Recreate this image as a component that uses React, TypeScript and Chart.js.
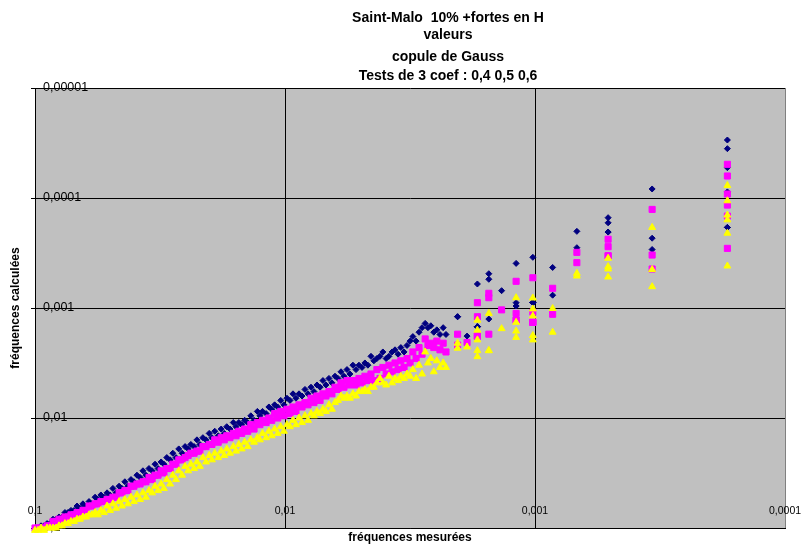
import React, { useEffect, useRef } from 'react';
import { Chart, registerables } from 'chart.js';

Chart.register(...registerables);

// Titles and axis labels
const titreLignes = [
  'Saint-Malo  10% +fortes en H',
  'valeurs',
  'copule de Gauss',
  'Tests de 3 coef : 0,4 0,5 0,6',
];
const titreAxeX = 'fréquences mesurées';
const titreAxeY = 'fréquences calculées';

// Decade ticks of both log axes and their labels (French decimal comma)
const decadesX = [0.1, 0.01, 0.001, 0.0001];
const etiquettesX = ['0,1', '0,01', '0,001', '0,0001'];
const decadesY = [0.1, 0.01, 0.001, 0.0001, 0.00001];
const etiquettesY = ['0,1', '0,01', '0,001', '0,0001', '0,00001'];

// Measured frequency of each event (ties share the same value)
const frequencesMesurees = [
  0.1, 0.0973, 0.0946, 0.092, 0.0895, 0.0871, 0.0847, 0.0824, 0.0802, 0.078,
  0.0759, 0.0738, 0.0718, 0.0698, 0.0679, 0.0661, 0.0643, 0.0625, 0.0608, 0.0592,
  0.0575, 0.056, 0.0545, 0.053, 0.0515, 0.0501, 0.0488, 0.0474, 0.0461, 0.0449,
  0.0437, 0.0425, 0.0413, 0.0402, 0.0391, 0.038, 0.037, 0.036, 0.035, 0.034,
  0.0331, 0.0322, 0.0313, 0.0305, 0.0297, 0.0288, 0.0281, 0.0273, 0.0266, 0.0258,
  0.0251, 0.0244, 0.0238, 0.0231, 0.0225, 0.0219, 0.0213, 0.0207, 0.0201, 0.0196,
  0.0191, 0.0185, 0.018, 0.0175, 0.0171, 0.0166, 0.0161, 0.0157, 0.0153, 0.0149,
  0.0145, 0.0141, 0.0137, 0.0133, 0.0129, 0.0126, 0.0123, 0.0119, 0.0116, 0.0113,
  0.011, 0.0107, 0.0104, 0.0101, 0.00982, 0.00955, 0.00929, 0.00904, 0.00879, 0.00855,
  0.00832, 0.00809, 0.00787, 0.00766, 0.00745, 0.00724, 0.00705, 0.00686, 0.00667, 0.00649,
  0.00631, 0.00614, 0.00597, 0.00581, 0.00565, 0.0055, 0.00535, 0.0052, 0.00506, 0.00492,
  0.00479, 0.00466, 0.00453, 0.00441, 0.00429, 0.00417, 0.00406, 0.00394, 0.00384, 0.00373,
  0.00363, 0.00353, 0.00344, 0.00334, 0.00325, 0.00316, 0.00308, 0.00299, 0.00291, 0.00283,
  0.00275, 0.00268, 0.00261, 0.00254, 0.00247, 0.0024, 0.00233, 0.00227,
  0.00204, 0.00204,
  0.00187,
  0.0017, 0.0017, 0.0017, 0.0017, 0.0017,
  0.00153, 0.00153, 0.00153,
  0.00136,
  0.00119, 0.00119, 0.00119, 0.00119,
  0.00102, 0.00102, 0.00102, 0.00102, 0.00102,
  0.00085, 0.00085,
  0.00068, 0.00068,
  0.00051, 0.00051, 0.00051, 0.00051,
  0.00034, 0.00034, 0.00034,
  0.00017, 0.00017, 0.00017, 0.00017, 0.00017, 0.00017,
];

// Calculated frequency, copula coefficient 0,4
const coef04 = [
  0.1, 0.1, 0.0955, 0.0955, 0.0912, 0.0912, 0.0832, 0.0832, 0.0794, 0.0794,
  0.0724, 0.0724, 0.0692, 0.0692, 0.0631, 0.0661, 0.0603, 0.0631, 0.0575, 0.0603,
  0.0525, 0.055, 0.0501, 0.0525, 0.0479, 0.0501, 0.0437, 0.0479, 0.0417, 0.0437,
  0.038, 0.0417, 0.0363, 0.038, 0.0331, 0.0347, 0.0302, 0.0331, 0.0288, 0.0302,
  0.0263, 0.0288, 0.0251, 0.0263, 0.0229, 0.024, 0.0209, 0.0229, 0.0191, 0.0209,
  0.0182, 0.0191, 0.0174, 0.0182, 0.0158, 0.0174, 0.0151, 0.0158, 0.0138, 0.0151,
  0.0132, 0.0145, 0.0126, 0.0138, 0.012, 0.0126, 0.011, 0.012, 0.011, 0.0115,
  0.0105, 0.011, 0.00955, 0.0105, 0.00871, 0.00955, 0.00871, 0.00912, 0.00794, 0.00832,
  0.00759, 0.00794, 0.00692, 0.00759, 0.00661, 0.00692, 0.00603, 0.00661, 0.00603, 0.00631,
  0.0055, 0.00603, 0.00525, 0.00575, 0.00501, 0.00525, 0.00457, 0.00501, 0.00437, 0.00479,
  0.00417, 0.00437, 0.0038, 0.00417, 0.00363, 0.00398, 0.00331, 0.00363, 0.00331, 0.00347,
  0.00316, 0.00331, 0.00275, 0.00302, 0.00288, 0.00275, 0.00251, 0.00288, 0.00275, 0.00251,
  0.0024, 0.00263, 0.00229, 0.00251, 0.00219, 0.002, 0.00182, 0.002, 0.00166, 0.00151,
  0.00138, 0.00151, 0.00145, 0.00166, 0.00158, 0.00174, 0.00151, 0.00174,
  0.0012, 0.0012,
  0.0018,
  0.000605, 0.00148, 0.00148, 0.00148, 0.00148,
  0.000488, 0.000548, 0.00126,
  0.000696,
  0.000393, 0.000895, 0.000959, 0.000959,
  0.000346, 0.000895, 0.000895, 0.000895, 0.000895,
  0.000428, 0.000765,
  0.000201, 0.000283,
  0.000151, 0.000168, 0.000204, 0.000204,
  0.0000828, 0.000232, 0.000294,
  0.0000297, 0.0000356, 0.000053, 0.000088, 0.000185, 0.000185,
];

// Calculated frequency, copula coefficient 0,5
const coef05 = [
  0.1, 0.1, 0.1, 0.1, 0.0955, 0.0955, 0.0871, 0.0871, 0.0832, 0.0832,
  0.0794, 0.0794, 0.0759, 0.0759, 0.0724, 0.0724, 0.0692, 0.0692, 0.0631, 0.0631,
  0.0603, 0.0603, 0.0575, 0.0575, 0.055, 0.055, 0.0525, 0.0525, 0.0479, 0.0479,
  0.0457, 0.0457, 0.0417, 0.0417, 0.0398, 0.0398, 0.038, 0.038, 0.0347, 0.0363,
  0.0331, 0.0331, 0.0302, 0.0316, 0.0288, 0.0288, 0.0263, 0.0263, 0.024, 0.024,
  0.0229, 0.0219, 0.0209, 0.0209, 0.02, 0.02, 0.0182, 0.0182, 0.0174, 0.0174,
  0.0158, 0.0166, 0.0151, 0.0158, 0.0145, 0.0151, 0.0138, 0.0145, 0.0132, 0.0138,
  0.0126, 0.0132, 0.0115, 0.0126, 0.011, 0.0115, 0.0105, 0.011, 0.01, 0.0105,
  0.00912, 0.01, 0.00871, 0.00955, 0.00832, 0.00912, 0.00794, 0.00871, 0.00759, 0.00794,
  0.00724, 0.00759, 0.00661, 0.00724, 0.00631, 0.00692, 0.00603, 0.00631, 0.00575, 0.00603,
  0.00525, 0.0055, 0.00479, 0.00525, 0.00457, 0.00501, 0.00457, 0.00501, 0.00437, 0.00479,
  0.00417, 0.00457, 0.00398, 0.00457, 0.00363, 0.00437, 0.00347, 0.00398, 0.00331, 0.0038,
  0.00316, 0.00363, 0.00302, 0.00347, 0.00288, 0.00316, 0.00251, 0.00288, 0.00229, 0.00263,
  0.00191, 0.00219, 0.00209, 0.00229, 0.002, 0.0024, 0.00209, 0.00251,
  0.00173, 0.00217,
  0.00206,
  0.000895, 0.0012, 0.0018, 0.0018, 0.0018,
  0.000735, 0.000806, 0.00173,
  0.00104,
  0.000572, 0.00112, 0.00129, 0.00129,
  0.000531, 0.00109, 0.00135, 0.00135, 0.00135,
  0.000662, 0.00114,
  0.000312, 0.000387,
  0.000237, 0.000277, 0.000335, 0.000335,
  0.000127, 0.00033, 0.000442,
  0.0000494, 0.0000631, 0.000092, 0.000116, 0.000146, 0.000287,
];

// Calculated frequency, copula coefficient 0,6
const coef06 = [
  0.105, 0.105, 0.1, 0.105, 0.1, 0.1, 0.1, 0.1, 0.0955, 0.0955,
  0.0912, 0.0912, 0.0871, 0.0871, 0.0832, 0.0832, 0.0794, 0.0794, 0.0759, 0.0759,
  0.0724, 0.0759, 0.0692, 0.0724, 0.0631, 0.0692, 0.0603, 0.0661, 0.0575, 0.0631,
  0.055, 0.0603, 0.0525, 0.0575, 0.0501, 0.055, 0.0479, 0.0525, 0.0457, 0.0479,
  0.0417, 0.0457, 0.0398, 0.0437, 0.0363, 0.0398, 0.0331, 0.0363, 0.0302, 0.0331,
  0.0275, 0.0302, 0.0263, 0.0288, 0.0251, 0.0275, 0.0229, 0.0251, 0.0219, 0.024,
  0.0209, 0.0229, 0.02, 0.0219, 0.0191, 0.0209, 0.0182, 0.02, 0.0174, 0.0191,
  0.0166, 0.0182, 0.0158, 0.0166, 0.0151, 0.0158, 0.0138, 0.0151, 0.0132, 0.0145,
  0.0126, 0.0138, 0.012, 0.0132, 0.0115, 0.012, 0.0105, 0.0115, 0.01, 0.011,
  0.00955, 0.0105, 0.00912, 0.00955, 0.00871, 0.00912, 0.00832, 0.00871, 0.00759, 0.00832,
  0.00724, 0.00692, 0.00631, 0.00661, 0.00631, 0.00661, 0.00603, 0.00631, 0.00575, 0.00575,
  0.0055, 0.00575, 0.00525, 0.00525, 0.00479, 0.00437, 0.00479, 0.00501, 0.00417, 0.00479,
  0.00437, 0.00457, 0.00417, 0.00437, 0.00398, 0.00417, 0.00363, 0.00437, 0.00331, 0.00398,
  0.00251, 0.00316, 0.00288, 0.0038, 0.00302, 0.00347, 0.00316, 0.00347,
  0.00209, 0.00232,
  0.00226,
  0.00129, 0.00159, 0.00195, 0.00244, 0.00277,
  0.00112, 0.00244, 0.00244,
  0.00154,
  0.000806, 0.00135, 0.00162, 0.00185,
  0.000811, 0.00102, 0.00118, 0.00178, 0.00195,
  0.00101, 0.00166,
  0.000484, 0.000512,
  0.000353, 0.000421, 0.000442, 0.000523,
  0.000185, 0.000447, 0.00064,
  0.000077, 0.000106, 0.000143, 0.000158, 0.000209, 0.000415,
];

const POLICE = "'Liberation Sans', Arial, Helvetica, sans-serif";
const LARGEUR = 804;
const HAUTEUR = 545;
const TITRE_X = 448;
const TITRE_Y = [18, 35, 57, 76];

const enPoints = (valeurs: number[]) =>
  frequencesMesurees.map((x, i) => ({ x, y: valeurs[i] }));

const etiquette = (decades: number[], textes: string[], v: number) => {
  const i = decades.findIndex((d) => Math.abs(v - d) / d < 1e-6);
  return i >= 0 ? textes[i] : '';
};

// Grey plotting area behind the grid
const fondZone = {
  id: 'fondZone',
  beforeDraw(chart: any) {
    const { ctx, chartArea: a } = chart;
    ctx.save();
    ctx.fillStyle = '#C0C0C0';
    ctx.fillRect(a.left, a.top, a.right - a.left, a.bottom - a.top);
    ctx.restore();
  },
};

// Four-line bold title above the plot
const titre = {
  id: 'titre',
  afterDraw(chart: any) {
    const { ctx } = chart;
    ctx.save();
    ctx.font = `bold 14px ${POLICE}`;
    ctx.fillStyle = '#000000';
    ctx.textAlign = 'center';
    ctx.textBaseline = 'middle';
    titreLignes.forEach((ligne, i) => ctx.fillText(ligne, TITRE_X, TITRE_Y[i]));
    ctx.restore();
  },
};

export default function App() {
  const canvasRef = useRef<HTMLCanvasElement | null>(null);

  useEffect(() => {
    if (!canvasRef.current) return;
    const chart = new Chart(canvasRef.current, {
      type: 'scatter',
      data: {
        datasets: [
          {
            label: 'coef 0,4',
            data: enPoints(coef04),
            pointStyle: 'rectRot',
            pointRadius: 3,
            pointBackgroundColor: '#000080',
            pointBorderColor: '#000080',
            pointBorderWidth: 1,
            showLine: false,
            clip: false,
            order: 3,
          },
          {
            label: 'coef 0,5',
            data: enPoints(coef05),
            pointStyle: 'rect',
            pointRadius: 4.3,
            pointBackgroundColor: '#FF00FF',
            pointBorderColor: '#FF00FF',
            pointBorderWidth: 1,
            showLine: false,
            clip: false,
            order: 2,
          },
          {
            label: 'coef 0,6',
            data: enPoints(coef06),
            pointStyle: 'triangle',
            pointRadius: 4,
            pointBackgroundColor: '#FFFF00',
            pointBorderColor: '#FFFF00',
            pointBorderWidth: 1,
            showLine: false,
            clip: false,
            order: 1,
          },
        ],
      },
      options: {
        responsive: false,
        animation: false,
        devicePixelRatio: 1,
        events: [],
        layout: { padding: { top: 88, right: 19, bottom: 0, left: 0 } },
        plugins: {
          legend: { display: false },
          tooltip: { enabled: false },
          title: { display: false },
        },
        scales: {
          x: {
            type: 'logarithmic',
            reverse: true,
            min: 0.0001,
            max: 0.1,
            afterBuildTicks: (s: any) => {
              s.ticks = decadesX.map((value) => ({ value }));
            },
            afterFit: (s: any) => {
              s.height = 17;
              s.paddingLeft = 0;
              s.paddingRight = 0;
            },
            ticks: {
              mirror: true,
              padding: 11,
              autoSkip: false,
              maxRotation: 0,
              color: '#000000',
              font: { family: POLICE, size: 10.5 },
              callback: (v: any) => etiquette(decadesX, etiquettesX, Number(v)),
            },
            grid: {
              drawTicks: false,
              lineWidth: 1,
              color: (c: any) =>
                c.tick && Math.abs(c.tick.value - 0.0001) < 1e-9 ? '#808080' : '#000000',
            },
            border: { display: true, color: '#000000', width: 1 },
            title: {
              display: true,
              text: titreAxeX,
              color: '#000000',
              font: { family: POLICE, size: 12, weight: 'bold' },
              padding: { top: 0, bottom: 0 },
            },
          },
          y: {
            type: 'logarithmic',
            reverse: true,
            min: 0.00001,
            max: 0.1,
            afterBuildTicks: (s: any) => {
              s.ticks = decadesY.map((value) => ({ value }));
            },
            afterFit: (s: any) => {
              s.width = 35;
              s.paddingTop = 0;
              s.paddingBottom = 0;
            },
            ticks: {
              mirror: true,
              padding: 8,
              autoSkip: false,
              color: '#000000',
              font: { family: POLICE, size: 12.5 },
              callback: (v: any) => etiquette(decadesY, etiquettesY, Number(v)),
            },
            grid: {
              drawTicks: true,
              tickLength: 4,
              lineWidth: 1,
              color: '#000000',
            },
            border: { display: true, color: '#000000', width: 1 },
            title: {
              display: true,
              text: titreAxeY,
              color: '#000000',
              font: { family: POLICE, size: 12, weight: 'bold' },
              padding: { top: 8, bottom: 0 },
            },
          },
        },
      },
      plugins: [fondZone, titre],
    } as any);
    return () => chart.destroy();
  }, []);

  return (
    <div
      style={{
        position: 'fixed',
        left: 0,
        top: 0,
        width: LARGEUR,
        height: HAUTEUR,
        background: '#FFFFFF',
      }}
    >
      <canvas ref={canvasRef} width={LARGEUR} height={HAUTEUR} style={{ display: 'block' }} />
    </div>
  );
}
